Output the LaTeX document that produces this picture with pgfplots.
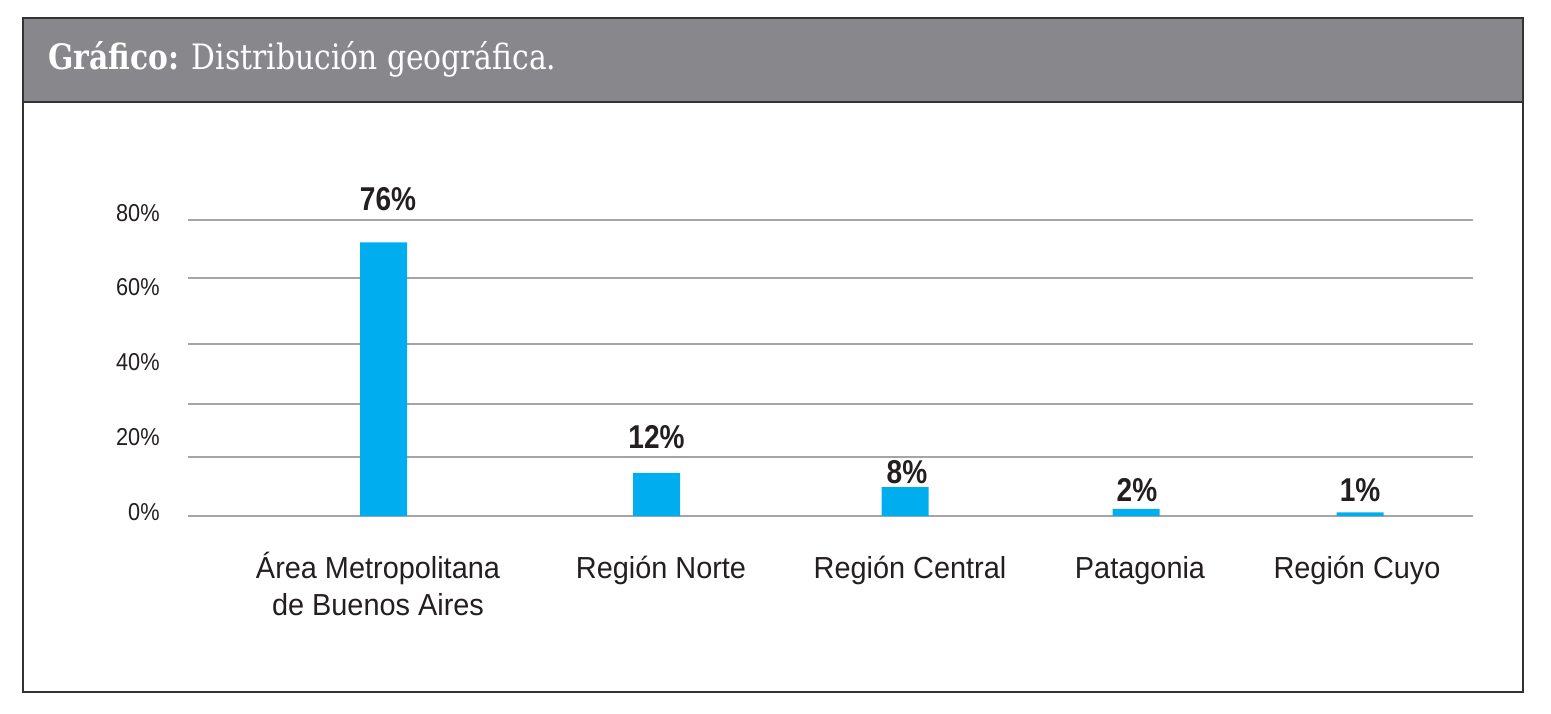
\documentclass[border=0pt]{standalone}
\usepackage{fontspec}
\setmainfont{Liberation Sans}
\newfontfamily\titlefont[FakeStretch=0.85]{DejaVu Serif}
\newfontfamily\labelfont[FakeStretch=0.95]{Liberation Sans}
\newfontfamily\tickfont[FakeStretch=0.89]{Liberation Sans}
\newfontfamily\valfont[FakeStretch=0.85]{Liberation Sans}
\usepackage{pgfplots}
\pgfplotsset{compat=1.18}

\definecolor{headgray}{HTML}{88878C}
\definecolor{barblue}{HTML}{00AEEF}
\definecolor{gridgray}{HTML}{A5A5A9}
\definecolor{framecol}{HTML}{333333}
\definecolor{txt}{HTML}{231F20}

% same top for every first line of a category label
\newcommand\lb[1]{\raisebox{0pt}[0.8em][0.2em]{#1}}

\begin{document}
\begin{tikzpicture}[x=0.5pt,y=0.5pt]
% page and frame, in reference pixels
\fill[white] (0,0) rectangle (1551,713);
\fill[headgray] (23,611) rectangle (1523,695);
\draw[framecol,line width=1pt] (23,611) -- (1523,611);
\draw[framecol,line width=1pt] (23,21) rectangle (1523,695);
\node[anchor=base west, text=white, inner sep=0pt] at (48,643)
  {\titlefont\fontsize{17.5}{21}\selectfont\textbf{Gráfico:} Distribución geográfica.};

\begin{axis}[
  at={(94pt,98.5pt)}, anchor=south west,
  scale only axis, width=642.5pt, height=162pt,
  xmin=188, xmax=1473, ymin=0, ymax=90,
  clip=false,
  ybar, bar width=23.5pt,
  axis line style={draw=none},
  major tick length=0pt,
  ymajorgrids, grid style={gridgray, line width=1pt},
  ytick={0,16.39,31.11,47.78,66.11,82.22},
  yticklabels={},
  extra y ticks={1.11,21.94,42.78,63.61,84.17},
  extra y tick labels={0\%,20\%,40\%,60\%,80\%},
  extra y tick style={grid=none,
    yticklabel style={anchor=east, inner sep=0pt, xshift=-14pt,
      font=\tickfont\fontsize{12.2}{14}\selectfont, text=txt}},
  xtick={378,661,910,1140,1357},
  xticklabels={{\lb{Área Metropolitana}\\de Buenos Aires},\lb{Región Norte},\lb{Región Central},\lb{Patagonia},\lb{Región Cuyo}},
  xticklabel style={align=center, anchor=north, inner sep=0pt, yshift=-19pt,
    font=\labelfont\fontsize{15.2}{18.3}\selectfont, text=txt},
]
\addplot[fill=barblue, draw=none] coordinates {
  (383.5,76) (656.5,12) (905,8) (1136,2) (1360,1)
};
\begin{scope}[every node/.style={anchor=center, text=txt,
    font=\valfont\bfseries\fontsize{16.5}{19}\selectfont}]
\node at (axis cs:388,88.06) {76\%};
\node at (axis cs:656.5,21.94) {12\%};
\node at (axis cs:907,12.2) {8\%};
\node at (axis cs:1137,7.22) {2\%};
\node at (axis cs:1360,7.22) {1\%};
\end{scope}
\end{axis}
\end{tikzpicture}
\end{document}
